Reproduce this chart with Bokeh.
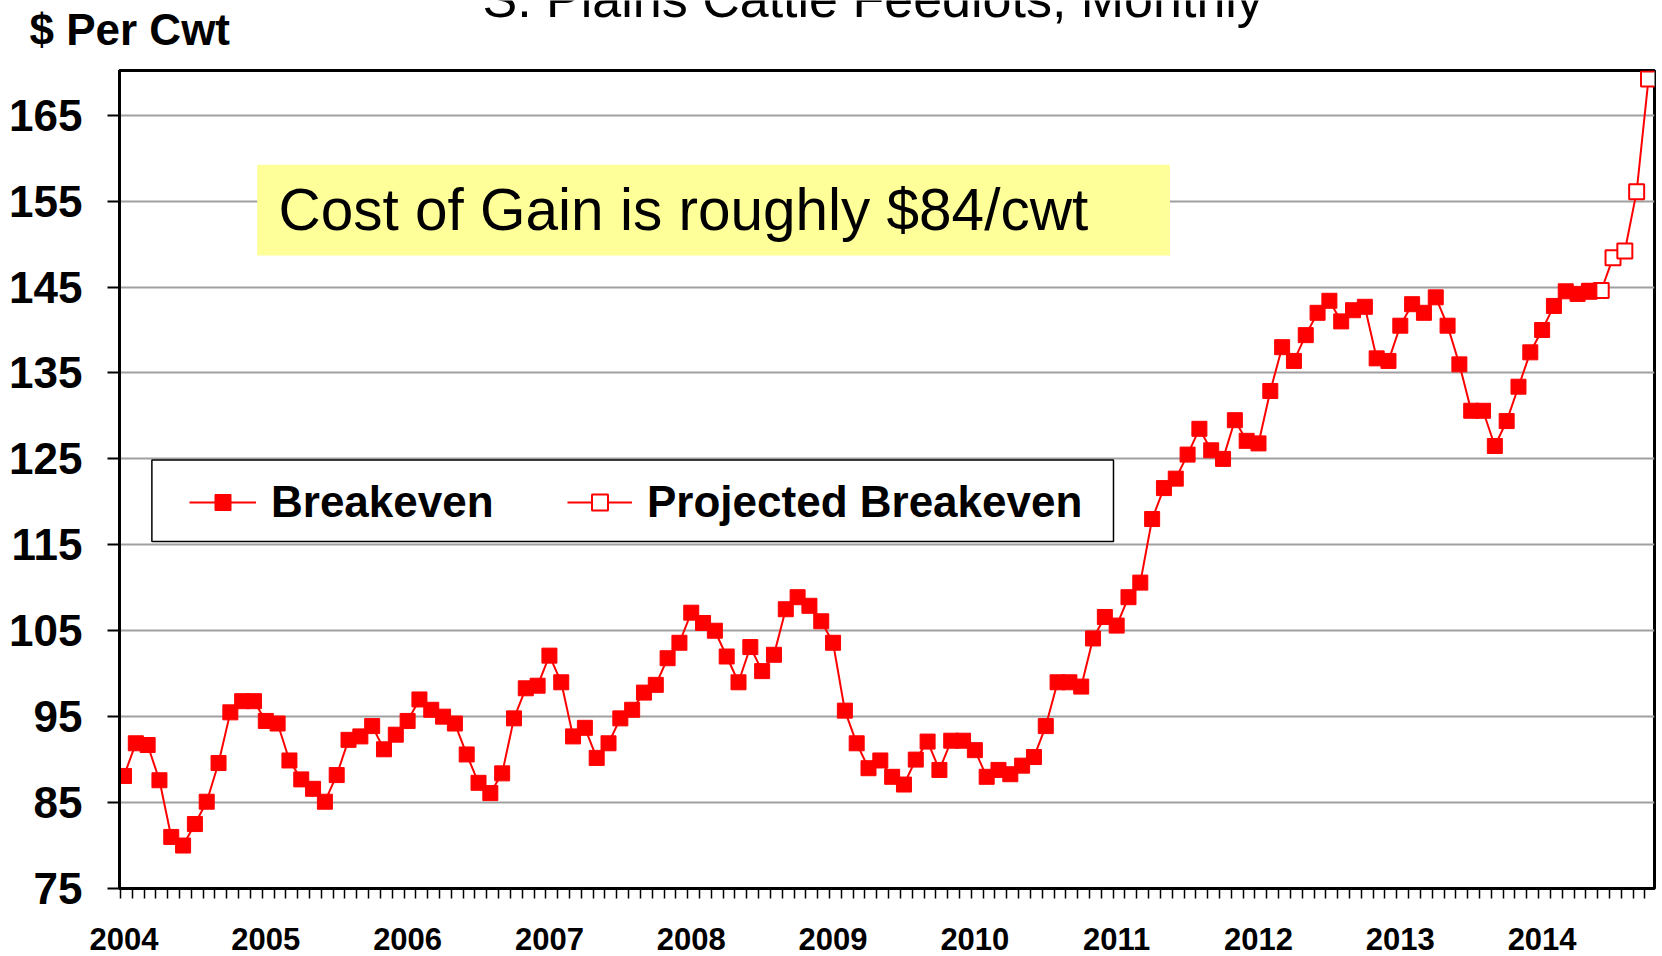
from bokeh.plotting import figure
from bokeh.models import (Range1d, FixedTicker, Label, BoxAnnotation, Legend,
                          LegendItem, ColumnDataSource)
from bokeh.core.properties import value
from bokeh.embed import file_html
from bokeh.resources import INLINE

# ---------------- data ----------------
TITLE = "S. Plains Cattle Feedlots, Monthly"
Y_TITLE = "$ Per Cwt"
NOTE = "Cost of Gain is roughly $84/cwt"
SERIES_NAMES = ["Breakeven", "Projected Breakeven"]
YEARS = ["2004", "2005", "2006", "2007", "2008", "2009", "2010",
         "2011", "2012", "2013", "2014"]
Y_TICKS = [75, 85, 95, 105, 115, 125, 135, 145, 155, 165]

# monthly breakeven, Jan 2004 .. May 2014 ($/cwt)
breakeven_2004 = [88.1, 91.9, 91.7, 87.6, 81.0, 80.0, 82.5, 85.1, 89.6, 95.5, 96.8, 96.8]
breakeven_2005 = [94.5, 94.2, 89.9, 87.7, 86.6, 85.1, 88.2, 92.3, 92.7, 93.9, 91.2, 92.9]
breakeven_2006 = [94.5, 97.0, 95.8, 95.0, 94.2, 90.6, 87.3, 86.1, 88.4, 94.8, 98.3, 98.6]
breakeven_2007 = [102.1, 99.0, 92.7, 93.7, 90.2, 91.9, 94.8, 95.8, 97.8, 98.7, 101.8, 103.6]
breakeven_2008 = [107.1, 105.9, 105.0, 102.0, 99.0, 103.1, 100.3, 102.2, 107.5, 108.9, 107.9, 106.1]
breakeven_2009 = [103.6, 95.7, 91.9, 89.0, 89.9, 88.0, 87.1, 90.0, 92.1, 88.8, 92.2, 92.2]
breakeven_2010 = [91.1, 88.0, 88.8, 88.3, 89.3, 90.3, 93.9, 99.0, 99.0, 98.5, 104.1, 106.6]
breakeven_2011 = [105.6, 108.9, 110.6, 118.0, 121.6, 122.7, 125.5, 128.5, 126.0, 125.0, 129.5, 127.1]
breakeven_2012 = [126.8, 132.9, 138.0, 136.4, 139.4, 142.0, 143.4, 141.0, 142.3, 142.7, 136.7, 136.4]
breakeven_2013 = [140.5, 143.0, 142.0, 143.8, 140.5, 136.0, 130.6, 130.6, 126.5, 129.4, 133.4, 137.4]
breakeven_2014 = [140.0, 142.8, 144.5, 144.2, 144.5]

# projected breakeven, May 2014 .. Oct 2014 (starts at last actual month)
projected = [144.5, 144.6, 148.4, 149.2, 156.1, 169.2]

breakeven = (breakeven_2004 + breakeven_2005 + breakeven_2006 + breakeven_2007 +
             breakeven_2008 + breakeven_2009 + breakeven_2010 + breakeven_2011 +
             breakeven_2012 + breakeven_2013 + breakeven_2014)

x_be = list(range(len(breakeven)))
x_pr = list(range(len(breakeven) - 1, len(breakeven) - 1 + len(projected)))
n_months = x_pr[-1] + 1

src_be = ColumnDataSource(dict(x=x_be, y=breakeven))
src_pr = ColumnDataSource(dict(x=x_pr, y=projected))

# ---------------- style ----------------
RED = "#FF0000"
SANS = "Liberation Sans"
W = 1662
HEAD_H = 64
MAIN_H = 892

# ---------------- header (title + unit label), pixel coordinates ----------------
head = figure(width=W, height=HEAD_H, output_backend="svg", toolbar_location=None,
              x_range=Range1d(0, W), y_range=Range1d(HEAD_H, 0),
              x_axis_location=None, y_axis_location=None,
              min_border_left=0, min_border_right=0, min_border_top=0,
              min_border_bottom=0)
head.outline_line_color = None
head.grid.visible = False
head.background_fill_color = "white"
head.border_fill_color = "white"
head.text(x=[482], y=[-2], text=[TITLE], text_font=value(SANS),
          text_font_size="52px", text_color="black", text_baseline="alphabetic")
head.text(x=[29], y=[29], text=[Y_TITLE], text_font=value(SANS),
          text_font_style="bold", text_font_size="44px", text_color="black",
          text_baseline="alphabetic")

# ---------------- main chart ----------------
p = figure(width=W, height=MAIN_H,
           output_backend="svg", toolbar_location=None,
           x_range=Range1d(-0.38, 129.51), y_range=Range1d(75, 170.2),
           min_border_left=119, min_border_right=8,
           min_border_top=6, min_border_bottom=68)
p.background_fill_color = "white"
p.border_fill_color = "white"
p.outline_line_color = "black"
p.outline_line_width = 3
p.outline_line_alpha = 1

p.xgrid.grid_line_color = None
p.ygrid.grid_line_color = "#A0A0A0"
p.ygrid.grid_line_width = 2

# y axis
p.yaxis.ticker = FixedTicker(ticks=Y_TICKS)
p.yaxis.axis_line_width = 3
p.yaxis.axis_line_color = "black"
p.yaxis.major_tick_out = 12
p.yaxis.major_tick_in = 0
p.yaxis.major_tick_line_width = 2
p.yaxis.minor_tick_out = 0
p.yaxis.minor_tick_in = 0
p.yaxis.major_label_standoff = 25
p.yaxis.major_label_text_font = SANS
p.yaxis.major_label_text_font_style = "bold"
p.yaxis.major_label_text_font_size = "44px"
p.yaxis.major_label_text_color = "black"

# x axis
year_ticks = [12 * i for i in range(len(YEARS))]
month_ticks = [m - 0.3 for m in range(n_months)]
p.xaxis.ticker = FixedTicker(ticks=year_ticks, minor_ticks=month_ticks)
p.xaxis.major_label_overrides = {t: lab for t, lab in zip(year_ticks, YEARS)}
p.xaxis.axis_line_width = 3
p.xaxis.axis_line_color = "black"
p.xaxis.major_tick_out = 0
p.xaxis.major_tick_in = 0
p.xaxis.minor_tick_out = 10
p.xaxis.minor_tick_in = 0
p.xaxis.minor_tick_line_width = 1.5
p.xaxis.minor_tick_line_color = "black"
p.xaxis.major_label_standoff = 29
p.xaxis.major_label_text_font = SANS
p.xaxis.major_label_text_font_style = "bold"
p.xaxis.major_label_text_font_size = "31px"
p.xaxis.major_label_text_color = "black"

# boxes behind the data
note_box = BoxAnnotation(left=11.27, right=88.51, bottom=148.66, top=159.24,
                         fill_color="#FFFF99", fill_alpha=1, line_color=None,
                         level="underlay")
p.add_layout(note_box)
legend_box = BoxAnnotation(left=2.36, right=83.73, bottom=115.38, top=124.86,
                           fill_color="white", fill_alpha=1, line_color="black",
                           line_width=1.5, line_alpha=1, level="underlay")
p.add_layout(legend_box)

# series
l_pr = p.line("x", "y", source=src_pr, line_color=RED, line_width=2)
s_pr = p.scatter("x", "y", source=src_pr, marker="square", size=15,
                 fill_color="white", line_color=RED, line_width=2)
l_be = p.line("x", "y", source=src_be, line_color=RED, line_width=2)
s_be = p.scatter("x", "y", source=src_be, marker="square", size=15,
                 fill_color=RED, line_color=RED, line_width=1)

# legends
common = dict(orientation="horizontal", padding=0, margin=0, spacing=0,
              glyph_height=40, label_height=40, label_standoff=15,
              label_text_font=SANS, label_text_font_style="bold",
              label_text_font_size="44px", label_text_color="black",
              border_line_color=None, background_fill_alpha=0)
leg1 = Legend(items=[LegendItem(label=SERIES_NAMES[0], renderers=[l_be, s_be])],
              location=(70, 361), glyph_width=67, **common)
leg2 = Legend(items=[LegendItem(label=SERIES_NAMES[1], renderers=[l_pr, s_pr])],
              location=(448, 361), glyph_width=65, **common)
p.add_layout(leg1)
p.add_layout(leg2)

# annotation text
p.add_layout(Label(x=159, y=679, x_units="screen", y_units="screen", text=NOTE,
                   text_font=SANS, text_font_size="58.5px", text_color="black",
                   text_baseline="alphabetic"))

open("out.html", "w").write(file_html([head, p], INLINE))
